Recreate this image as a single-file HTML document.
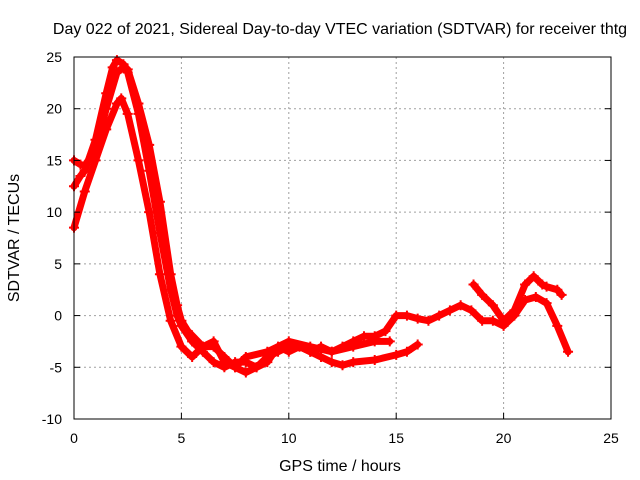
<!DOCTYPE html>
<html><head><meta charset="utf-8"><style>
body{margin:0;background:#fff}
svg{display:block;font-family:"Liberation Sans",sans-serif}
</style></head><body>
<svg id="chart" width="640" height="480">
<rect width="640" height="480" fill="#fff"/>
<g id="grid"></g>
<g id="series"></g>
<rect x="74" y="57" width="537" height="362" fill="none" stroke="#000" stroke-width="1"/>
<g id="ticks"></g>
<text x="340" y="34" font-size="16" text-anchor="middle">Day 022 of 2021, Sidereal Day-to-day VTEC variation (SDTVAR) for receiver thtg</text>
<text x="340" y="471" font-size="16" text-anchor="middle">GPS time / hours</text>
<text x="19" y="238" font-size="16" text-anchor="middle" transform="rotate(-90 19 238)">SDTVAR / TECUs</text>
</svg>
<script>
const xTicks=[0,5,10,15,20,25];
const yTicks=[-10,-5,0,5,10,15,20,25];
const track1T=[0,0.3,0.5,1,1.5,1.8,2,2.3,2.5,3,3.5,4,4.5,4.8,5,5.5,6,6.5,7,7.5,8,8.5,9,9.5,10,10.5,11,11.5,12,12.5,13,13.5,14,14.5,15,15.5,16,16.5,17,17.5,18,18.5,19,19.5,20,20.5,21,21.5,22,22.5,23];
const track1V=[12.5,13.5,14,17,21.5,24,24.7,24.3,23.5,19.5,14,8,2.5,0,-1,-2.5,-3.5,-4.5,-5,-4.5,-4.5,-5,-4,-3.5,-3,-3,-3.5,-3,-3.5,-3,-2.5,-2,-2,-1.5,0,0,-0.3,-0.5,0,0.5,1,0.5,-0.5,-0.5,-1,0,1.5,1.8,1.2,-1,-3.5];
const track2T=[0,0.3,0.5,1,1.5,2,2.3,2.5,3,3.5,4,4.5,4.8,5,5.3,6,6.5,7,7.5,8,9,10,11,12,13,14,14.7];
const track2V=[15,14.6,14.5,16,20,23.5,24,23.8,20.5,16.5,11,4,1,-0.5,-1.5,-3,-3,-4,-5,-4,-3.5,-2.5,-3,-3.5,-3,-2.5,-2.5];
const track3T=[0,0.5,1,1.5,2,2.2,2.5,3,3.5,4,4.5,5,5.5,6,6.5,7,7.5,8,8.5,9,9.5,10,10.5,11,11.5,12,12.5,13,14,15,15.5,16];
const track3V=[8.5,12,15,18,20.5,21,19.5,15,10,4,-0.5,-3,-4,-3,-2.5,-4.5,-5,-5.5,-5,-4.5,-3,-3.5,-3,-3.5,-4,-4.5,-4.8,-4.5,-4.3,-3.8,-3.5,-2.8];
const track4T=[18.6,19,19.5,20,20.5,21,21.4,21.8,22,22.5,22.7];
const track4V=[3,2,1,-0.5,0.5,3,3.8,3,2.8,2.5,2];
const NS="http://www.w3.org/2000/svg";
const X=t=>74+t*(537/25);
const Y=v=>57+(25-v)*(362/35);
const grid=document.getElementById('grid'),ticks=document.getElementById('ticks'),ser=document.getElementById('series');
function mk(tag,at,parent){const e=document.createElementNS(NS,tag);for(const k in at)e.setAttribute(k,at[k]);parent.appendChild(e);return e;}
xTicks.forEach(t=>{
  if(t>0&&t<25){const g=mk('line',{x1:X(t),x2:X(t),y1:57,y2:419,stroke:'#a0a0a0','stroke-dasharray':'2,3'},grid);
  
  }
  const l=mk('text',{x:X(t),y:443,'font-size':14,'text-anchor':'middle'},ticks);l.textContent=t;
  
  
  const a=mk('line',{x1:X(t),x2:X(t),y1:419,y2:413,stroke:'#000'},ticks);
  
  
});
yTicks.forEach(v=>{
  if(v>-10&&v<25){const g=mk('line',{x1:74,x2:611,y1:Y(v),y2:Y(v),stroke:'#a0a0a0','stroke-dasharray':'2,3'},grid);
  
  }
  const l=mk('text',{x:62,y:Y(v)+5,'font-size':14,'text-anchor':'end'},ticks);l.textContent=v;
  
  
  const a=mk('line',{x1:74,x2:80,y1:Y(v),y2:Y(v),stroke:'#000'},ticks);
  
  
  const b=mk('line',{x1:605,x2:611,y1:Y(v),y2:Y(v),stroke:'#000'},ticks);
  
  
});
[[track1T,track1V],[track2T,track2V],[track3T,track3V],[track4T,track4V]].forEach((s,i)=>{
  const pts=s[0].map((t,j)=>X(t)+','+Y(s[1][j])).join(' ');
  const p=mk('polyline',{points:pts,fill:'none',stroke:'#ff0000','stroke-width':7,'stroke-linejoin':'round','stroke-linecap':'round'},ser);
  
  
  s[0].forEach((t,j)=>{
    const x=X(t),y=Y(s[1][j]);
    const m=mk('path',{d:`M${x-5},${y}H${x+5}M${x},${y-5}V${y+5}`,stroke:'#ff0000','stroke-width':2},ser);
    
    
  });
});
</script>
</body></html>
